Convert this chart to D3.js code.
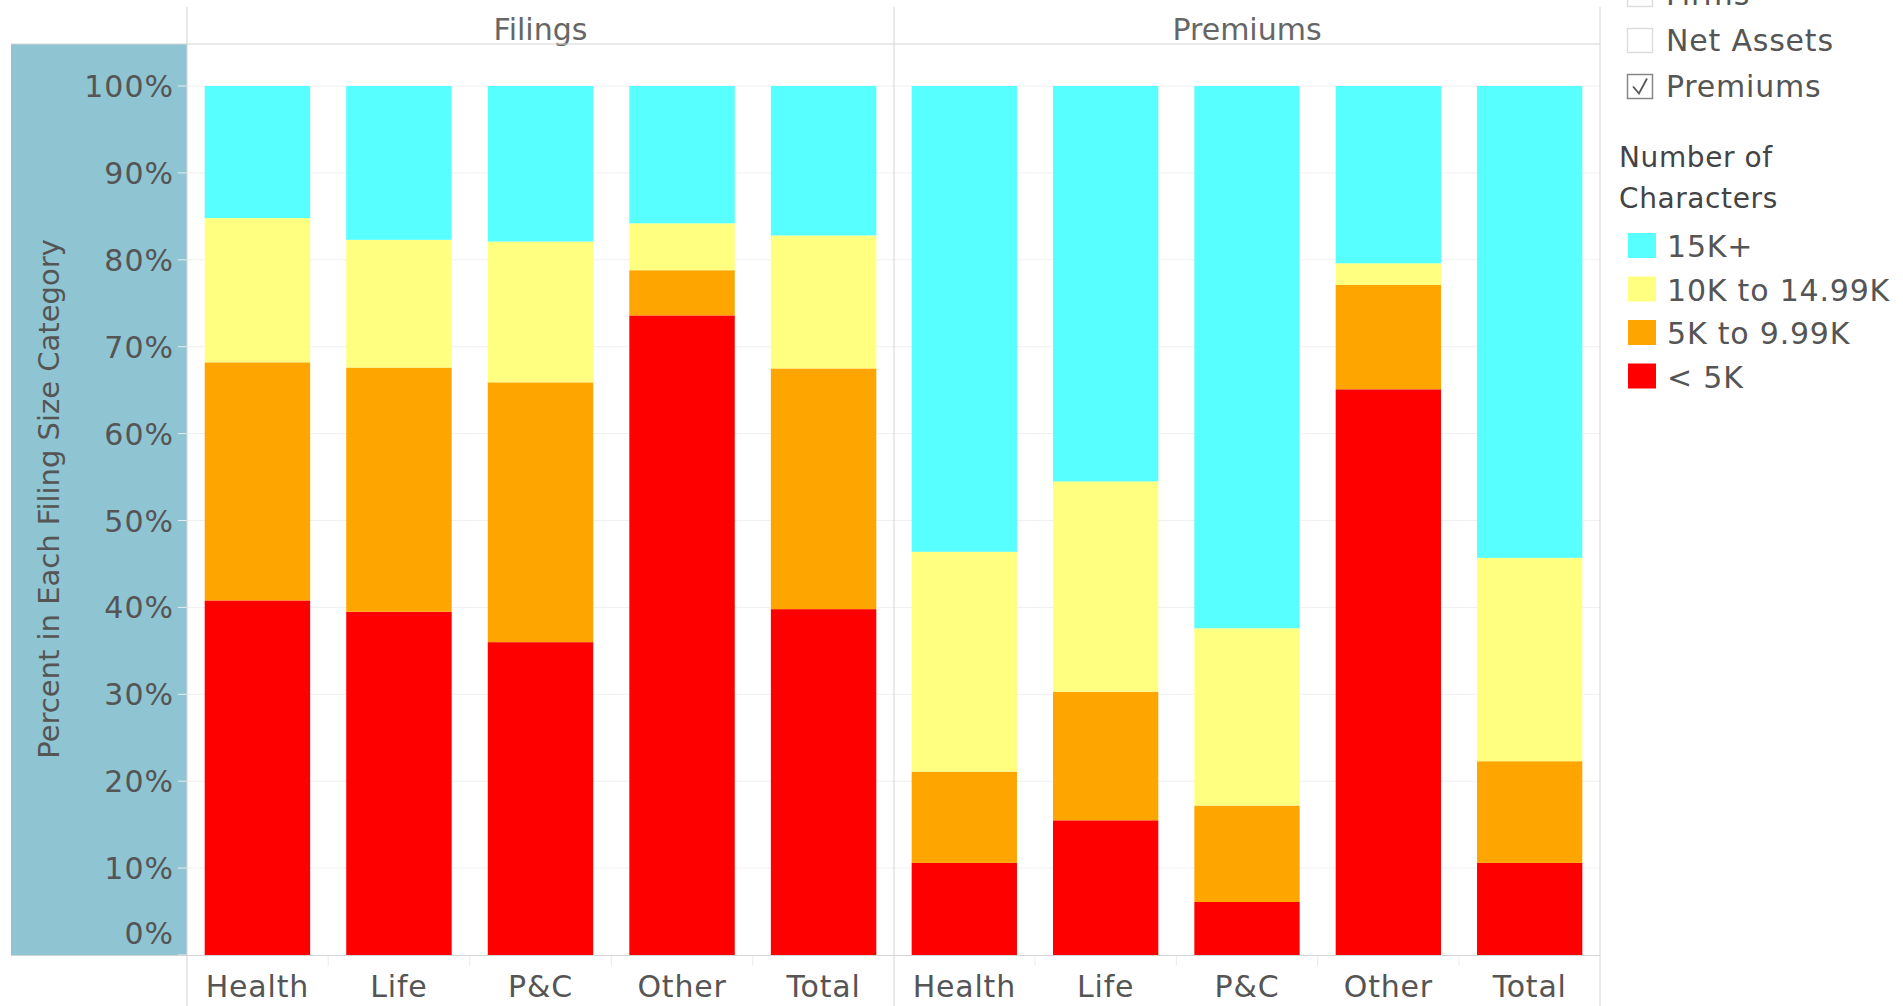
<!DOCTYPE html>
<html>
<head>
<meta charset="utf-8">
<script src="https://cdn.jsdelivr.net/npm/d3@7"></script>
<style>
  body { margin: 0; background: #fff; }
  text { font-family: "DejaVu Sans", sans-serif; }
</style>
</head>
<body>
<svg id="svg" width="1903" height="1006"></svg>
<script>
const svg = d3.select("#svg");

const categories = ["Health", "Life", "P&C", "Other", "Total"];
const panels = ["Filings", "Premiums"];
const sizeBands = ["< 5K", "5K to 9.99K", "10K to 14.99K", "15K+"];
const yTicks = [0, 10, 20, 30, 40, 50, 60, 70, 80, 90, 100];

// share of each size band (percent), per category
const filingsUnder5K = [40.8, 39.5, 36.0, 73.6, 39.8];
const filings5To10K = [27.4, 28.1, 29.9, 5.2, 27.7];
const filings10To15K = [16.6, 14.7, 16.2, 5.4, 15.3];
const filings15KPlus = [15.2, 17.7, 17.9, 15.8, 17.2];

const premiumsUnder5K = [10.6, 15.5, 6.1, 65.1, 10.6];
const premiums5To10K = [10.5, 14.8, 11.1, 12.0, 11.7];
const premiums10To15K = [25.3, 24.2, 20.4, 2.5, 23.4];
const premiums15KPlus = [53.6, 45.5, 62.4, 20.4, 54.3];

const measureOptions = ["Firms", "Net Assets", "Premiums"];
const checkedOption = "Premiums";

const panelSeries = {
  Filings: [filingsUnder5K, filings5To10K, filings10To15K, filings15KPlus],
  Premiums: [premiumsUnder5K, premiums5To10K, premiums10To15K, premiums15KPlus],
};

const colorScale = d3.scaleOrdinal(sizeBands, ["#ff0000", "#ffa500", "#ffff80", "#57ffff"]);

const plotTop = 86, plotBottom = 955;
const panelEdges = [187, 894, 1600];
const lineColor = "#d4d4d4";
const textColor = "#555";

const y = d3.scaleLinear().domain([0, 100]).range([plotBottom, plotTop]);

// blue axis band
svg.append("rect")
  .attr("x", 11).attr("y", 44)
  .attr("width", 176).attr("height", plotBottom - 44)
  .attr("fill", "#8fc4d3");

// gridlines
svg.append("g")
  .selectAll("line")
  .data(yTicks.filter((d) => d > 0))
  .join("line")
  .attr("x1", 187).attr("x2", 1600)
  .attr("y1", (d) => y(d)).attr("y2", (d) => y(d))
  .attr("stroke", "#f0f0f0");

// y axis ticks and labels
const yAxis = svg.append("g");
yAxis.selectAll("line")
  .data(yTicks)
  .join("line")
  .attr("x1", 178).attr("x2", 187)
  .attr("y1", (d) => y(d)).attr("y2", (d) => y(d))
  .attr("stroke", "#e4eef1");
yAxis.selectAll("text")
  .data(yTicks)
  .join("text")
  .attr("x", 174)
  .attr("y", (d) => (d === 0 ? y(d) - 11 : y(d) + 11))
  .attr("text-anchor", "end")
  .style("font-size", "30px")
  .style("letter-spacing", "1px")
  .style("fill", textColor)
  .text((d) => d + "%");

// axis title, centred a little above the plot middle as in Tableau
svg.append("text")
  .attr("transform", "translate(59,499) rotate(-90)")
  .attr("text-anchor", "middle")
  .style("font-size", "29px")
  .style("fill", textColor)
  .text("Percent in Each Filing Size Category");

// panels
panels.forEach((panel, p) => {
  const x0 = panelEdges[p], x1 = panelEdges[p + 1];
  const x = d3.scaleBand()
    .domain(categories)
    .range([x0, x1])
    .paddingInner(0.255)
    .paddingOuter(0.125);

  const rows = categories.map((c, i) => {
    const row = { category: c };
    sizeBands.forEach((b, j) => (row[b] = panelSeries[panel][j][i]));
    return row;
  });
  const stacked = d3.stack().keys(sizeBands)(rows);

  const g = svg.append("g").attr("class", "panel");
  g.selectAll("g")
    .data(stacked)
    .join("g")
    .attr("fill", (s) => colorScale(s.key))
    .selectAll("rect")
    .data((s) => s)
    .join("rect")
    .attr("x", (d) => x(d.data.category))
    .attr("width", x.bandwidth())
    .attr("y", (d) => y(d[1]))
    .attr("height", (d) => y(d[0]) - y(d[1]));

  // header
  svg.append("text")
    .attr("x", (x0 + x1) / 2)
    .attr("y", 40)
    .attr("text-anchor", "middle")
    .style("font-size", "30px")
    .style("fill", "#666")
    .text(panel);

  // x labels
  g.selectAll(".xlabel")
    .data(categories)
    .join("text")
    .attr("class", "xlabel")
    .attr("x", (d) => x(d) + x.bandwidth() / 2)
    .attr("y", 997)
    .attr("text-anchor", "middle")
    .style("font-size", "30px")
    .style("letter-spacing", "0.8px")
    .style("fill", textColor)
    .text((d) => d);

  // small dividers below the axis between categories
  g.selectAll(".xdiv")
    .data(categories.slice(1))
    .join("line")
    .attr("class", "xdiv")
    .attr("x1", (d) => x(d) - (x.step() - x.bandwidth()) / 2)
    .attr("x2", (d) => x(d) - (x.step() - x.bandwidth()) / 2)
    .attr("y1", plotBottom).attr("y2", plotBottom + 11)
    .attr("stroke", "#ebebeb");
});

// frame lines
svg.append("g")
  .selectAll("line")
  .data(panelEdges)
  .join("line")
  .attr("x1", (d) => d).attr("x2", (d) => d)
  .attr("y1", 7).attr("y2", 1006)
  .attr("stroke", lineColor);
svg.append("line")
  .attr("x1", 11).attr("x2", 1600).attr("y1", 44).attr("y2", 44)
  .attr("stroke", lineColor);
svg.append("line")
  .attr("x1", 11).attr("x2", 1600).attr("y1", plotBottom + 0.5).attr("y2", plotBottom + 0.5)
  .attr("stroke", lineColor);

// measure selector (top row is scrolled partly out of view)
const opts = svg.append("g").attr("class", "options");
opts.selectAll("rect")
  .data(measureOptions)
  .join("rect")
  .attr("x", 1627.5)
  .attr("y", (d, i) => -17.5 + i * 46)
  .attr("width", 25).attr("height", 24)
  .attr("fill", "#fff")
  .attr("stroke", (d) => (d === checkedOption ? "#888" : "#ddd"))
  .attr("stroke-width", 1.5);
opts.selectAll("path")
  .data(measureOptions.filter((d) => d === checkedOption))
  .join("path")
  .attr("d", (d) => {
    const yy = -17.5 + measureOptions.indexOf(d) * 46;
    return `M1633,${yy + 12} L1639,${yy + 19} L1647,${yy + 4}`;
  })
  .attr("fill", "none")
  .attr("stroke", "#555")
  .attr("stroke-width", 1.8);
opts.selectAll("text")
  .data(measureOptions)
  .join("text")
  .attr("x", 1666)
  .attr("y", (d, i) => 5 + i * 46)
  .style("font-size", "30px")
  .style("letter-spacing", "0.8px")
  .style("fill", textColor)
  .text((d) => d);

// color legend
const legend = svg.append("g").attr("class", "legend");
legend.selectAll(".title")
  .data(["Number of", "Characters"])
  .join("text")
  .attr("class", "title")
  .attr("x", 1619)
  .attr("y", (d, i) => 167 + i * 41)
  .style("font-size", "28px")
  .style("letter-spacing", "0.6px")
  .style("fill", "#444")
  .text((d) => d);

const legendOrder = sizeBands.slice().reverse();
legend.selectAll("rect")
  .data(legendOrder)
  .join("rect")
  .attr("x", 1628)
  .attr("y", (d, i) => 233 + i * 43.5)
  .attr("width", 28).attr("height", 25)
  .attr("fill", (d) => colorScale(d));
legend.selectAll(".item")
  .data(legendOrder)
  .join("text")
  .attr("class", "item")
  .attr("x", 1667)
  .attr("y", (d, i) => 257 + i * 43.5)
  .style("font-size", "30px")
  .style("letter-spacing", "0.8px")
  .style("fill", textColor)
  .text((d) => d);
</script>
</body>
</html>
